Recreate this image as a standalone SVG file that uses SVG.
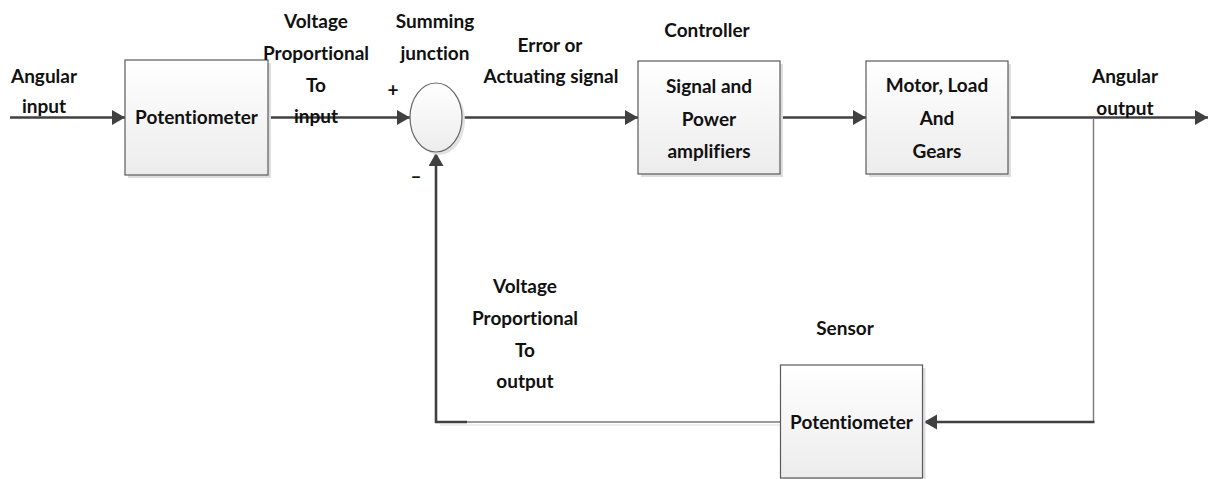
<svg xmlns="http://www.w3.org/2000/svg" width="1214" height="479" viewBox="0 0 1214 479">
<defs>
<linearGradient id="boxfill" x1="0" y1="0" x2="0" y2="1">
<stop offset="0" stop-color="#ffffff"/>
<stop offset="1" stop-color="#ececec"/>
</linearGradient>
<marker id="arr" markerUnits="userSpaceOnUse" markerWidth="14" markerHeight="16" refX="13" refY="7.5" orient="auto">
<path d="M0,0 L13,7.5 L0,15 Z" fill="#404040"/>
</marker>
<style>
text{font-family:Lato,"Liberation Sans",sans-serif;font-weight:bold;font-size:19px;fill:#111;text-anchor:middle;font-variant-ligatures:none}
.box{fill:url(#boxfill);stroke:#5a5a5a;stroke-width:1.2}
.shadow{fill:#dedede}
.line{fill:none;stroke:#404040;stroke-width:2.6}
.thin{fill:none;stroke:#7a7a7a;stroke-width:1.4}
</style>
</defs>
<rect width="1214" height="479" fill="#ffffff"/>

<g id="connectors">
<path class="line" d="M10,117.5 H125" marker-end="url(#arr)"/>
<path class="line" d="M268,117.5 H410" marker-end="url(#arr)"/>
<path class="line" d="M462,117.5 H638" marker-end="url(#arr)"/>
<path class="line" d="M780,117.5 H866" marker-end="url(#arr)"/>
<path class="line" d="M1008,117.5 H1208" marker-end="url(#arr)"/>
<path class="thin" d="M1093.5,118 V422"/>
<path class="line" d="M1094.5,422 H924" marker-end="url(#arr)"/>
<path d="M780,425 H440" stroke="#eeeeee" stroke-width="2" fill="none"/>
<path class="thin" d="M780,422 H467"/>
<path class="line" d="M467,422 H436 V153" marker-end="url(#arr)"/>
</g>

<g id="potentiometer-input">
<rect class="shadow" x="128" y="63" width="143" height="115"/>
<rect class="box" x="125" y="60" width="143" height="115"/>
<text x="196.5" y="124">Potentiometer</text>
</g>

<g id="summing-junction">
<ellipse cx="439" cy="120.5" rx="26" ry="34.5" fill="#e2e2e2"/>
<ellipse cx="436" cy="117.5" rx="26" ry="34.5" fill="url(#boxfill)" stroke="#666" stroke-width="1.2"/>
</g>

<g id="controller">
<rect class="shadow" x="641" y="64" width="142" height="113"/>
<rect class="box" x="638" y="61" width="142" height="113"/>
<text x="709" y="93">Signal and</text>
<text x="709" y="126">Power</text>
<text x="709" y="158">amplifiers</text>
</g>

<g id="motor">
<rect class="shadow" x="869" y="64" width="142" height="113"/>
<rect class="box" x="866" y="61" width="142" height="113"/>
<text x="937" y="92">Motor, Load</text>
<text x="937" y="125">And</text>
<text x="937" y="158">Gears</text>
</g>

<g id="sensor">
<rect class="shadow" x="783.5" y="368" width="142" height="113"/>
<rect class="box" x="780.5" y="365" width="142" height="113"/>
<text x="851.5" y="429">Potentiometer</text>
</g>

<g id="labels">
<text x="44" y="83">Angular</text>
<text x="44" y="113">input</text>
<text x="316" y="28">Voltage</text>
<text x="316" y="60">Proportional</text>
<text x="316" y="92">To</text>
<text x="316" y="123">input</text>
<text x="435" y="28">Summing</text>
<text x="435" y="60">junction</text>
<text x="393" y="97">+</text>
<text x="416" y="183">–</text>
<text x="550" y="52">Error or</text>
<text x="551" y="83">Actuating signal</text>
<text x="707" y="37">Controller</text>
<text x="1125" y="83">Angular</text>
<text x="1125" y="115">output</text>
<text x="525" y="293">Voltage</text>
<text x="525" y="325">Proportional</text>
<text x="525" y="357">To</text>
<text x="525" y="388">output</text>
<text x="845" y="335">Sensor</text>
</g>
</svg>
